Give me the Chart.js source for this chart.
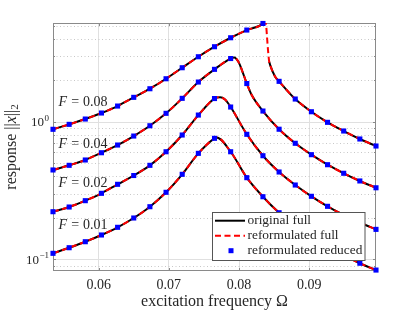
<!DOCTYPE html>
<html>
<head>
<meta charset="utf-8">
<script src="https://cdn.jsdelivr.net/npm/chart.js@4.4.0/dist/chart.umd.min.js"></script>
<style>
  body { margin: 0; background: #fff; }
  canvas { display: block; }
</style>
</head>
<body>
<canvas id="graph" width="415" height="312"></canvas>
<script>
// Données :
const omega = [0.0535, 0.0558, 0.0581, 0.0604, 0.0627, 0.0650, 0.0673, 0.0696, 0.0719, 0.0742, 0.0765,
               0.0788, 0.0811, 0.0834, 0.0857, 0.0880, 0.0903, 0.0926, 0.0949, 0.0972, 0.0995];

const resp001 = [0.1105, 0.1214, 0.1342, 0.1502, 0.1708, 0.1996, 0.2411, 0.3069, 0.4147, 0.589, 0.7575,
                 0.605, 0.392, 0.285, 0.218, 0.176, 0.1452, 0.1229, 0.1066, 0.0936, 0.0835];
const resp002 = [0.2218, 0.2399, 0.2667, 0.3017, 0.3508, 0.4064, 0.482, 0.605, 0.8006, 1.118, 1.474,
                 1.279, 0.810, 0.566, 0.431, 0.3467, 0.287, 0.2427, 0.2099, 0.185, 0.165];
const resp004 = [0.446, 0.482, 0.527, 0.595, 0.677, 0.787, 0.935, 1.151, 1.479, 1.943, 2.403,
                 2.88, 1.895, 1.196, 0.882, 0.697, 0.576, 0.487, 0.422, 0.371, 0.331];
const resp008 = [0.881, 0.957, 1.046, 1.157, 1.300, 1.504, 1.737, 2.053, 2.469, 2.968, 3.509,
                 4.078, 4.639, 5.18, 1.966, 1.462, 1.182, 0.990, 0.856, 0.749, 0.666];

// points en plus pour les sommets des courbes :
const peakOmega001 = [0.0768];
const peakResp001 = [0.768];
const peakOmega002 = [0.0773, 0.0780];
const peakResp002 = [1.504, 1.45];
const peakOmega004 = [0.0793, 0.0799, 0.0804, 0.0818];
const peakResp004 = [2.93, 2.73, 2.376, 1.563];

// F = 0.08 : haut de la branche, saut, branche basse
const topOmega008 = [0.08365];
const topResp008 = [5.4];
const jumpOmega008 = [0.08385, 0.08396, 0.0841];
const jumpResp008 = [5.05, 4.27, 3.415];
const lowOmega008 = [0.08429, 0.08443, 0.08514];
const lowResp008 = [2.73, 2.58, 2.12];

const forces = ['0.01', '0.02', '0.04', '0.08'];
const forceLabelOmega = 0.0543;
const forceLabelResp = [0.1763, 0.356, 0.689, 1.39];

const xTicks = [0.06, 0.07, 0.08, 0.09];
const yTicks = [0.1, 1];
const yTickExp = ['\u22121', '0'];
const yMinor = [0.09, 0.2, 0.3, 0.4, 0.5, 0.6, 0.7, 0.8, 0.9, 2, 3, 4, 5];
const legendLabels = ['original full', 'reformulated full', 'reformulated reduced'];

const serif = '"Liberation Serif", "Times New Roman", serif';
const textColor = '#262626';

function pts(xs, ys) {
    return xs.map((x, i) => ({ x: x, y: ys[i] }));
}

function merge(xs, ys, ex, ey) {
    const p = pts(xs, ys).concat(pts(ex, ey));
    p.sort((a, b) => a.x - b.x);
    return p;
}

// lignes
const lines = [
    merge(omega, resp001, peakOmega001, peakResp001),
    merge(omega, resp002, peakOmega002, peakResp002),
    merge(omega, resp004, peakOmega004, peakResp004)
];

const black008 = pts(omega.slice(0, 14), resp008.slice(0, 14))
    .concat(pts(topOmega008, topResp008))
    .concat([{ x: 0.0842, y: null }])
    .concat(pts(lowOmega008, lowResp008))
    .concat(pts(omega.slice(14), resp008.slice(14)));

const red008 = pts(omega.slice(0, 14), resp008.slice(0, 14))
    .concat(pts(topOmega008, topResp008))
    .concat(pts(jumpOmega008, jumpResp008))
    .concat(pts(lowOmega008, lowResp008))
    .concat(pts(omega.slice(14), resp008.slice(14)));

const markers = [resp001, resp002, resp004, resp008].map(r => pts(omega, r));

const datasets = [];
const blackLines = lines.concat([black008]);
const redLines = lines.concat([red008]);

for (let i = 0; i < 4; i++) {
    datasets.push({
        data: markers[i],
        showLine: false,
        pointStyle: 'rect',
        pointRadius: 3.6,
        pointBackgroundColor: '#0000ff',
        pointBorderWidth: 0,
        clip: false,
        order: 0
    });
    datasets.push({
        data: redLines[i],
        borderColor: '#ff0000',
        borderWidth: 2,
        borderDash: [6, 3.5],
        pointRadius: 0,
        cubicInterpolationMode: 'monotone',
        order: 1
    });
    datasets.push({
        data: blackLines[i],
        borderColor: '#000000',
        borderWidth: 2,
        pointRadius: 0,
        cubicInterpolationMode: 'monotone',
        spanGaps: false,
        order: 2
    });
}

// grille, cadre et petits traits :
const cadre = {
    id: 'cadre',
    beforeDatasetsDraw(chart) {
        const c = chart.ctx;
        const a = chart.chartArea;
        const ys = chart.scales.y;
        const xs = chart.scales.x;
        c.save();
        c.lineWidth = 1;
        c.strokeStyle = '#c8c8c8';
        c.setLineDash([1, 2.5]);
        yMinor.forEach(v => {
            const y = Math.round(ys.getPixelForValue(v)) + 0.5;
            c.beginPath(); c.moveTo(a.left, y); c.lineTo(a.right, y); c.stroke();
        });
        c.setLineDash([]);
        c.strokeStyle = '#e0e0e0';
        yTicks.forEach(v => {
            const y = Math.round(ys.getPixelForValue(v)) + 0.5;
            c.beginPath(); c.moveTo(a.left, y); c.lineTo(a.right, y); c.stroke();
        });

        c.strokeStyle = '#8a8a8a';
        c.strokeRect(a.left + 0.5, a.top + 0.5, a.right - a.left - 1, a.bottom - a.top - 1);
        c.beginPath();
        xTicks.forEach(v => {
            const x = Math.round(xs.getPixelForValue(v)) + 0.5;
            c.moveTo(x, a.bottom); c.lineTo(x, a.bottom - 3);
            c.moveTo(x, a.top); c.lineTo(x, a.top + 3);
        });
        yTicks.concat(yMinor).forEach((v, i) => {
            const y = Math.round(ys.getPixelForValue(v)) + 0.5;
            const l = i < yTicks.length ? 3 : 2;
            c.moveTo(a.left, y); c.lineTo(a.left + l, y);
            c.moveTo(a.right, y); c.lineTo(a.right - l, y);
        });
        c.stroke();
        c.restore();
    },
    afterDraw(chart) {
        const c = chart.ctx;
        const a = chart.chartArea;
        const ys = chart.scales.y;
        const xs = chart.scales.x;
        c.save();
        c.fillStyle = textColor;

        // étiquettes 10^n
        c.textBaseline = 'alphabetic';
        yTicks.forEach((v, i) => {
            const y = ys.getPixelForValue(v);
            c.font = '9px ' + serif;
            const we = c.measureText(yTickExp[i]).width;
            c.textAlign = 'left';
            const right = a.left - 4;
            c.fillText(yTickExp[i], right - we, y - 1);
            c.font = '13px ' + serif;
            c.textAlign = 'right';
            c.fillText('10', right - we - 0.5, y + 4.5);
        });

        // titre axe y
        c.save();
        c.translate(12, (a.top + a.bottom) / 2);
        c.rotate(-Math.PI / 2);
        const parts = [
            { t: 'response ', f: '16px ' + serif, dy: 0 },
            { t: '||', f: '16px ' + serif, dy: 0 },
            { t: 'x', f: 'italic 16px ' + serif, dy: 0 },
            { t: '||', f: '16px ' + serif, dy: 0 },
            { t: '2', f: '11px ' + serif, dy: 3 }
        ];
        let total = 0;
        parts.forEach(p => { c.font = p.f; p.w = c.measureText(p.t).width; total += p.w; });
        let px = -total / 2;
        c.textAlign = 'left';
        c.textBaseline = 'middle';
        parts.forEach(p => { c.font = p.f; c.fillText(p.t, px, p.dy); px += p.w; });
        c.restore();

        // étiquettes F
        c.textAlign = 'left';
        c.textBaseline = 'middle';
        forces.forEach((f, i) => {
            const x = xs.getPixelForValue(forceLabelOmega);
            const y = ys.getPixelForValue(forceLabelResp[i]);
            c.font = 'italic 14px ' + serif;
            c.fillText('F', x, y);
            let w = c.measureText('F').width + 4;
            c.font = '14px ' + serif;
            c.fillText('=', x + w, y);
            w += c.measureText('=').width + 4;
            c.fillText(f, x + w, y);
        });

        // légende
        const lx = 212.5, ly = 212.5, lw = 152.5, lh = 48;
        c.fillStyle = '#ffffff';
        c.fillRect(lx, ly, lw, lh);
        c.strokeStyle = '#555555';
        c.lineWidth = 1;
        c.strokeRect(lx, ly, lw, lh);
        const rows = [220.7, 235.8, 250.7];
        c.lineWidth = 2;
        c.strokeStyle = '#000000';
        c.beginPath(); c.moveTo(215, rows[0]); c.lineTo(245, rows[0]); c.stroke();
        c.strokeStyle = '#ff0000';
        c.setLineDash([6, 3.5]);
        c.beginPath(); c.moveTo(215, rows[1]); c.lineTo(245, rows[1]); c.stroke();
        c.setLineDash([]);
        c.fillStyle = '#0000ff';
        c.fillRect(231 - 2.5, rows[2] - 2.5, 5, 5);
        c.fillStyle = textColor;
        c.font = '13.4px ' + serif;
        c.textAlign = 'left';
        c.textBaseline = 'middle';
        legendLabels.forEach((t, i) => c.fillText(t, 247.5, rows[i]));
        c.restore();
    }
};

const ctx = document.getElementById('graph').getContext('2d');
const graph = new Chart(ctx, {
    type: 'line',
    data: { datasets: datasets },
    options: {
        responsive: false,
        animation: false,
        devicePixelRatio: 1,
        layout: { padding: { left: 0, right: 39, top: 23, bottom: 0 } },
        plugins: { legend: { display: false }, tooltip: { enabled: false } },
        scales: {
            x: {
                type: 'linear',
                min: 0.0535,
                max: 0.0995,
                afterBuildTicks: s => { s.ticks = xTicks.map(v => ({ value: v })); },
                afterFit: s => { s.height = 41; },
                grid: { color: '#e0e0e0', drawTicks: false },
                border: { display: false },
                ticks: {
                    color: textColor,
                    font: { family: serif, size: 14 },
                    padding: 6,
                    maxRotation: 0,
                    callback: v => v.toFixed(2)
                },
                title: {
                    display: true,
                    text: 'excitation frequency \u03a9',
                    color: textColor,
                    font: { family: serif, size: 16 },
                    padding: { top: 0, bottom: 1 }
                }
            },
            y: {
                type: 'logarithmic',
                min: 0.0822,
                max: 5.22,
                afterFit: s => { s.width = 53; },
                ticks: { display: false },
                grid: { display: false },
                border: { display: false }
            }
        }
    },
    plugins: [cadre]
});
</script>
</body>
</html>
